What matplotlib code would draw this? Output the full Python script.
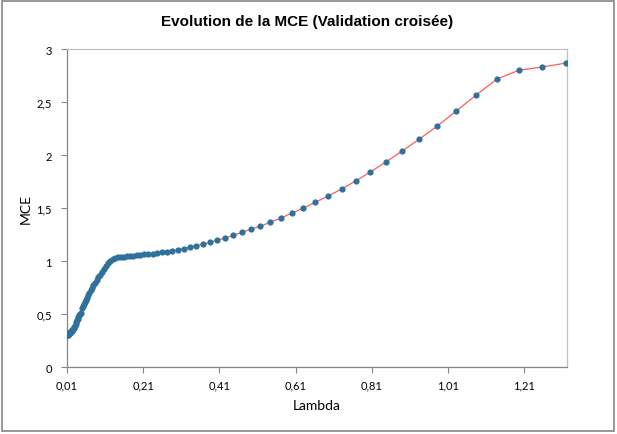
import matplotlib.pyplot as plt
from matplotlib.patches import Rectangle

# lambda grid and cross-validated MCE
lambdas = [0.0100, 0.0105, 0.0110, 0.0116, 0.0122, 0.0128, 0.0134, 0.0141, 0.0148, 0.0156,
           0.0164, 0.0172, 0.0181, 0.0190, 0.0200, 0.0210, 0.0220, 0.0231, 0.0243, 0.0255,
           0.0268, 0.0282, 0.0296, 0.0311, 0.0327, 0.0343, 0.0361, 0.0379, 0.0398, 0.0418,
           0.0439, 0.0461, 0.0485, 0.0509, 0.0535, 0.0562, 0.0590, 0.0620, 0.0652, 0.0685,
           0.0719, 0.0756, 0.0794, 0.0834, 0.0876, 0.0920, 0.0967, 0.1016, 0.1067, 0.1121,
           0.1178, 0.1237, 0.1300, 0.1365, 0.1434, 0.1507, 0.1583, 0.1663, 0.1747, 0.1836,
           0.1928, 0.2026, 0.2128, 0.2236, 0.2349, 0.2468, 0.2592, 0.2723, 0.2861, 0.3006,
           0.3158, 0.3317, 0.3485, 0.3661, 0.3846, 0.4041, 0.4245, 0.4460, 0.4685, 0.4922,
           0.5171, 0.5432, 0.5707, 0.5996, 0.6299, 0.6617, 0.6952, 0.7303, 0.7672, 0.8060,
           0.8468, 0.8896, 0.9346, 0.9818, 1.0314, 1.0836, 1.1384, 1.1959, 1.2564, 1.3199]
mce = [0.298, 0.300, 0.302, 0.304, 0.306, 0.309, 0.312, 0.315, 0.318, 0.321,
       0.323, 0.325, 0.327, 0.330, 0.334, 0.338, 0.342, 0.347, 0.352, 0.357,
       0.362, 0.368, 0.375, 0.385, 0.405, 0.425, 0.440, 0.455, 0.475, 0.492,
       0.500, 0.505, 0.560, 0.578, 0.596, 0.615, 0.635, 0.655, 0.676, 0.700,
       0.725, 0.750, 0.770, 0.795, 0.820, 0.845, 0.870, 0.898, 0.925, 0.955,
       0.982, 1.002, 1.018, 1.028, 1.034, 1.038, 1.040, 1.043, 1.047, 1.052,
       1.055, 1.058, 1.062, 1.066, 1.070, 1.075, 1.081, 1.089, 1.097, 1.107,
       1.118, 1.129, 1.145, 1.157, 1.176, 1.195, 1.216, 1.242, 1.270, 1.300,
       1.328, 1.366, 1.404, 1.452, 1.498, 1.555, 1.613, 1.679, 1.755, 1.840,
       1.934, 2.038, 2.151, 2.274, 2.415, 2.566, 2.717, 2.800, 2.830, 2.868]

xticks = [0.01, 0.21, 0.41, 0.61, 0.81, 1.01, 1.21]
xtick_labels = ['0,01', '0,21', '0,41', '0,61', '0,81', '1,01', '1,21']
yticks = [0, 0.5, 1, 1.5, 2, 2.5, 3]
ytick_labels = ['0', '0,5', '1', '1,5', '2', '2,5', '3']

plt.rcParams['font.family'] = ['Lato', 'DejaVu Sans']

fig = plt.figure(figsize=(6.17, 4.35), dpi=100)
ax = fig.add_axes([0.1086, 0.154, 0.8104, 0.731])

ax.plot(lambdas, mce, color='#ff5a5a', linewidth=0.9, zorder=2)
ax.plot(lambdas, mce, linestyle='none', marker='o', markersize=4.5,
        color='#2e729b', markeredgewidth=0, zorder=3)

ax.set_xlim(0.01, 1.322)
ax.set_ylim(0, 3)
ax.set_xticks(xticks)
ax.set_xticklabels(xtick_labels)
ax.set_yticks(yticks)
ax.set_yticklabels(ytick_labels)
ax.tick_params(axis='both', labelsize=8, color='#868686', length=4, width=0.8)
ax.tick_params(axis='y', pad=7)
ax.tick_params(axis='x', pad=5)

for side in ['left', 'bottom']:
    ax.spines[side].set_color('#868686')
    ax.spines[side].set_linewidth(0.9)
for side in ['top', 'right']:
    ax.spines[side].set_color('#c0c0c0')
    ax.spines[side].set_linewidth(0.9)

ax.set_xlabel('Lambda', fontsize=10, labelpad=6)
ax.set_ylabel('MCE', fontsize=10, labelpad=3)

fig.text(0.498, 0.949, 'Evolution de la MCE (Validation croisée)', ha='center', va='center',
         fontsize=11, fontweight='bold', family='Liberation Sans')

# chart frame
fig.patches.append(Rectangle((0.004, 0.008), 0.991, 0.988, transform=fig.transFigure,
                             fill=False, edgecolor='#868686', linewidth=1.2))

fig.savefig('out.png', dpi=100)
